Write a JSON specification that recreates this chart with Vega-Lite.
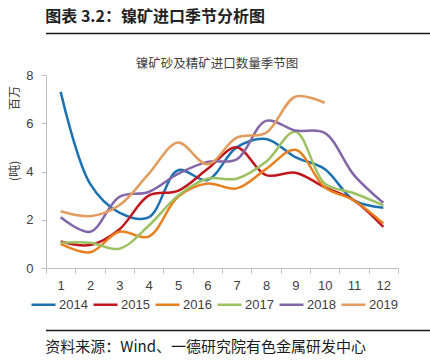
{
  "$schema": "https://vega.github.io/schema/vega-lite/v6.json",
  "background": "white",
  "padding": {"left": 8, "top": 8, "right": 8, "bottom": 2},
  "spacing": 22,
  "resolve": {"legend": {"color": "independent"}},
  "config": {"view": {"stroke": null}, "font": "Noto Sans CJK SC"},
  "vconcat": [
    {
      "title": {"text": "图表 3.2：镍矿进口季节分析图", "anchor": "start", "fontSize": 16, "fontWeight": "bold", "color": "#222222", "offset": 8, "font": "Noto Sans CJK SC"},
      "width": 410,
      "height": 1,
      "data": {"values": [{"a": 0, "b": 1, "c": 0.5}]},
      "mark": {"type": "rule", "color": "#1a1a1a", "strokeWidth": 1.5},
      "encoding": {
        "x": {"field": "a", "type": "quantitative", "scale": {"domain": [0, 1]}, "axis": null},
        "x2": {"field": "b"},
        "y": {"field": "c", "type": "quantitative", "scale": {"domain": [0, 1]}, "axis": null}
      }
    },
    {
      "spacing": 17,
      "resolve": {"legend": {"color": "independent"}},
      "vconcat": [
        {
          "title": {"text": "镍矿砂及精矿进口数量季节图", "fontSize": 12.5, "fontWeight": "normal", "color": "#404040", "frame": "group", "offset": 0, "dx": -5, "dy": 1},
          "width": 352,
          "height": 193,
          "data": {"values": [
            {"year": "2014", "month": 1, "v": 7.3}, {"year": "2014", "month": 2, "v": 3.5}, {"year": "2014", "month": 3, "v": 2.3}, {"year": "2014", "month": 4, "v": 2.1}, {"year": "2014", "month": 5, "v": 4.05}, {"year": "2014", "month": 6, "v": 3.65}, {"year": "2014", "month": 7, "v": 5.0}, {"year": "2014", "month": 8, "v": 5.35}, {"year": "2014", "month": 9, "v": 4.6}, {"year": "2014", "month": 10, "v": 4.1}, {"year": "2014", "month": 11, "v": 2.8}, {"year": "2014", "month": 12, "v": 2.5},
            {"year": "2015", "month": 1, "v": 1.1}, {"year": "2015", "month": 2, "v": 0.95}, {"year": "2015", "month": 3, "v": 1.6}, {"year": "2015", "month": 4, "v": 3.0}, {"year": "2015", "month": 5, "v": 3.2}, {"year": "2015", "month": 6, "v": 4.1}, {"year": "2015", "month": 7, "v": 5.0}, {"year": "2015", "month": 8, "v": 3.85}, {"year": "2015", "month": 9, "v": 3.95}, {"year": "2015", "month": 10, "v": 3.35}, {"year": "2015", "month": 11, "v": 2.8}, {"year": "2015", "month": 12, "v": 1.7},
            {"year": "2016", "month": 1, "v": 1.0}, {"year": "2016", "month": 2, "v": 0.65}, {"year": "2016", "month": 3, "v": 1.5}, {"year": "2016", "month": 4, "v": 1.3}, {"year": "2016", "month": 5, "v": 2.95}, {"year": "2016", "month": 6, "v": 3.5}, {"year": "2016", "month": 7, "v": 3.3}, {"year": "2016", "month": 8, "v": 4.1}, {"year": "2016", "month": 9, "v": 4.9}, {"year": "2016", "month": 10, "v": 3.35}, {"year": "2016", "month": 11, "v": 2.8}, {"year": "2016", "month": 12, "v": 1.85},
            {"year": "2017", "month": 1, "v": 1.05}, {"year": "2017", "month": 2, "v": 1.05}, {"year": "2017", "month": 3, "v": 0.8}, {"year": "2017", "month": 4, "v": 1.75}, {"year": "2017", "month": 5, "v": 3.0}, {"year": "2017", "month": 6, "v": 3.7}, {"year": "2017", "month": 7, "v": 3.7}, {"year": "2017", "month": 8, "v": 4.4}, {"year": "2017", "month": 9, "v": 5.65}, {"year": "2017", "month": 10, "v": 3.5}, {"year": "2017", "month": 11, "v": 3.1}, {"year": "2017", "month": 12, "v": 2.6},
            {"year": "2018", "month": 1, "v": 2.1}, {"year": "2018", "month": 2, "v": 1.5}, {"year": "2018", "month": 3, "v": 2.95}, {"year": "2018", "month": 4, "v": 3.15}, {"year": "2018", "month": 5, "v": 3.9}, {"year": "2018", "month": 6, "v": 4.4}, {"year": "2018", "month": 7, "v": 4.5}, {"year": "2018", "month": 8, "v": 6.1}, {"year": "2018", "month": 9, "v": 5.7}, {"year": "2018", "month": 10, "v": 5.6}, {"year": "2018", "month": 11, "v": 3.85}, {"year": "2018", "month": 12, "v": 2.7},
            {"year": "2019", "month": 1, "v": 2.35}, {"year": "2019", "month": 2, "v": 2.15}, {"year": "2019", "month": 3, "v": 2.6}, {"year": "2019", "month": 4, "v": 3.9}, {"year": "2019", "month": 5, "v": 5.2}, {"year": "2019", "month": 6, "v": 4.3}, {"year": "2019", "month": 7, "v": 5.4}, {"year": "2019", "month": 8, "v": 5.6}, {"year": "2019", "month": 9, "v": 7.1}, {"year": "2019", "month": 10, "v": 6.85}
          ]},
          "mark": {"type": "line", "interpolate": "catmull-rom", "strokeWidth": 2.5},
          "encoding": {
            "x": {"field": "month", "type": "ordinal", "bandPosition": 0.5,
              "scale": {"type": "band", "paddingInner": 0, "paddingOuter": 0},
              "axis": {"title": null, "labelAngle": 0, "tickBand": "extent", "domainColor": "#bfbfbf", "tickColor": "#bfbfbf", "tickSize": 5, "labelFontSize": 13, "labelFont": "Liberation Sans", "labelColor": "#404040", "labelPadding": 6}},
            "y": {"field": "v", "type": "quantitative", "scale": {"domain": [0, 8]},
              "axis": {"values": [0, 2, 4, 6, 8], "grid": false, "domainColor": "#bfbfbf", "tickColor": "#bfbfbf", "tickSize": 5, "labelFontSize": 13, "labelFont": "Liberation Sans", "labelColor": "#404040", "labelPadding": 8,
                "title": "(吨)　　　　 百万", "titleFontSize": 12, "titleFontWeight": "normal", "titleColor": "#404040", "titlePadding": 4, "titleY": 58}},
            "color": {"field": "year", "type": "nominal",
              "scale": {"domain": ["2014", "2015", "2016", "2017", "2018", "2019"], "range": ["#1c72b0", "#c0161e", "#e8801f", "#9cc160", "#8266a8", "#e29d5e"]},
              "legend": {"title": null, "orient": "none", "direction": "horizontal", "legendX": -16, "legendY": 216, "symbolType": "stroke", "symbolSize": 576, "symbolStrokeWidth": 2.5, "labelFontSize": 13, "labelFont": "Liberation Sans", "labelColor": "#404040", "columnPadding": 0, "labelOffset": 2}}
          }
        },
        {
          "title": {"text": "资料来源：Wind、一德研究院有色金属研发中心", "orient": "bottom", "anchor": "start", "fontSize": 15, "fontWeight": "normal", "color": "#1a1a1a", "offset": 9, "font": "Noto Sans CJK SC"},
          "width": 410,
          "height": 1,
          "data": {"values": [{"a": 0, "b": 1, "c": 0.5}]},
          "mark": {"type": "rule", "color": "#1a1a1a", "strokeWidth": 1.5},
          "encoding": {
            "x": {"field": "a", "type": "quantitative", "scale": {"domain": [0, 1]}, "axis": null},
            "x2": {"field": "b"},
            "y": {"field": "c", "type": "quantitative", "scale": {"domain": [0, 1]}, "axis": null}
          }
        }
      ]
    }
  ]
}
